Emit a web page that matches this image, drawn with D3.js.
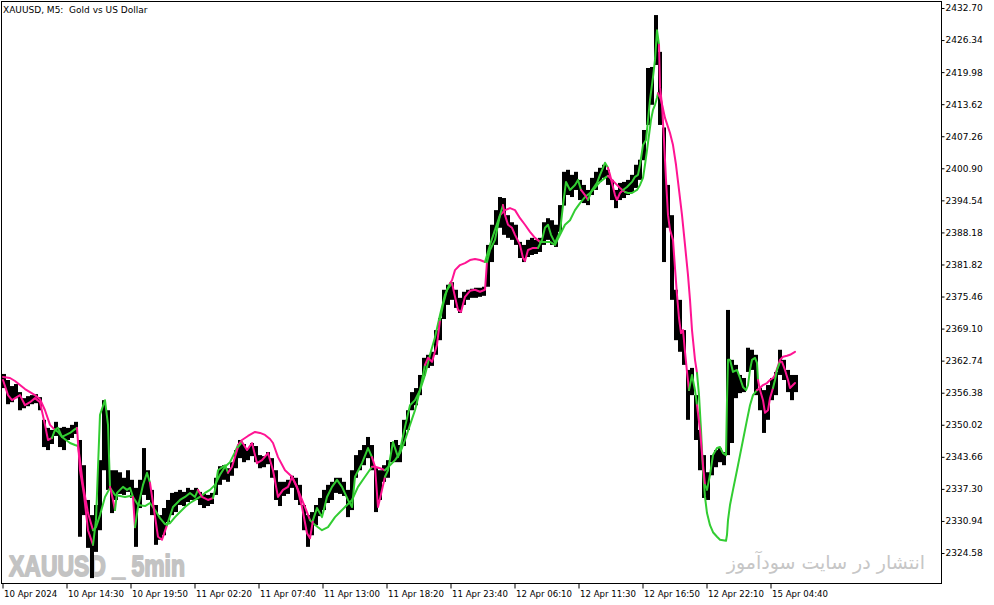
<!DOCTYPE html>
<html><head><meta charset="utf-8">
<script src="https://cdn.jsdelivr.net/npm/d3@7"></script>
<style>html,body{margin:0;padding:0;background:#fff;overflow:hidden}</style>
</head><body>
<svg id="c" width="994" height="605"></svg>
<script>
// ---------------- DATA ----------------
const chartTitle = "XAUUSD, M5:  Gold vs US Dollar";
const watermarkText = "XAUUSD _ 5min";
const promoText = "انتشار در سایت سودآموز";

// time axis labels (M5 bar index where each label sits)
const timeLabels = ["10 Apr 2024","10 Apr 14:30","10 Apr 19:50","11 Apr 02:20","11 Apr 07:40","11 Apr 13:00",
  "11 Apr 18:20","11 Apr 23:40","12 Apr 06:10","12 Apr 11:30","12 Apr 16:50","12 Apr 22:10","15 Apr 04:40"];
const timeTickBars = [0,64,128,192,256,320,384,448,512,576,640,704,768];

// price axis labels
const priceTicks = [2432.70,2426.34,2419.98,2413.62,2407.26,2400.90,2394.54,2388.18,2381.82,2375.46,
  2369.10,2362.74,2356.38,2350.02,2343.66,2337.30,2330.94,2324.58];

// price bars: each entry = high / low of 4 consecutive M5 bars
const barsPerEntry = 4;
const barHigh = [
 2360.1,2358.9,2357.7,2358.1,2356.5,2355.3,2355.7,2355.9,2356.1,2355.5,
 2351.0,2349.4,2349.0,2350.6,2349.4,2349.6,2349.4,2350.0,2350.6,2347.0,
 2342.0,2335.1,2332.1,2334.1,2343.0,2354.9,2352.9,2341.0,2341.0,2340.6,
 2339.5,2341.0,2339.1,2337.5,2339.1,2345.4,2341.0,2337.1,2334.1,2332.1,
 2333.5,2335.1,2336.5,2336.7,2337.1,2336.7,2337.5,2337.1,2337.5,2336.7,
 2336.3,2336.1,2336.5,2339.5,2341.8,2342.0,2341.4,2342.6,2345.0,2347.0,
 2346.2,2345.4,2346.4,2345.8,2344.0,2343.8,2344.6,2343.4,2341.0,2338.7,
 2338.7,2339.1,2339.9,2339.5,2338.1,2334.1,2332.1,2332.7,2334.1,2335.5,
 2337.1,2338.1,2338.7,2339.5,2339.5,2338.7,2337.1,2341.0,2344.0,2345.0,
 2346.0,2347.6,2346.0,2341.4,2341.0,2342.0,2343.0,2346.6,2347.0,2346.0,
 2351.0,2352.9,2356.5,2357.3,2359.9,2363.3,2363.9,2364.5,2368.8,2371.2,
 2376.8,2377.8,2378.3,2376.8,2375.2,2376.4,2376.8,2377.0,2377.2,2377.2,
 2377.4,2385.7,2389.7,2392.6,2395.2,2395.0,2391.6,2390.2,2389.7,2386.3,
 2385.7,2386.7,2387.1,2386.7,2387.1,2390.2,2391.0,2390.6,2389.7,2393.6,
 2400.2,2400.6,2399.6,2400.2,2398.6,2397.6,2396.6,2399.0,2400.2,2401.0,
 2401.6,2400.6,2398.6,2396.6,2398.0,2398.2,2398.6,2399.6,2401.6,2402.6,
 2408.5,2420.8,2421.0,2431.3,2424.0,2409.0,2397.6,2391.6,2376.8,2374.8,
 2368.8,2360.9,2361.3,2355.9,2349.0,2344.0,2340.6,2344.0,2345.0,2345.4,
 2344.6,2372.8,2362.9,2361.9,2359.9,2359.3,2365.3,2364.9,2363.9,2357.3,
 2356.9,2357.9,2359.3,2360.5,2364.9,2362.9,2360.9,2359.9,2359.9];
const barLow = [
 2357.3,2354.1,2354.5,2355.3,2352.9,2353.3,2353.7,2354.1,2354.3,2352.9,
 2345.6,2345.0,2346.2,2347.8,2345.6,2345.0,2347.0,2347.4,2348.2,2327.8,
 2332.1,2325.6,2319.6,2324.8,2329.1,2341.0,2337.1,2332.5,2335.1,2336.3,
 2336.1,2336.7,2335.5,2325.8,2333.5,2336.1,2335.1,2332.1,2326.2,2327.2,
 2328.1,2330.7,2332.1,2332.7,2334.1,2333.9,2334.7,2335.1,2335.1,2334.1,
 2333.5,2333.9,2334.3,2336.1,2338.1,2339.1,2338.7,2339.9,2341.4,2343.4,
 2342.6,2343.0,2343.8,2342.6,2341.4,2341.6,2342.2,2339.5,2335.1,2333.9,
 2335.9,2336.3,2337.5,2335.1,2334.1,2329.1,2325.8,2328.1,2330.1,2331.9,
 2333.1,2334.5,2335.1,2336.5,2336.3,2335.9,2331.7,2333.1,2339.5,2341.0,
 2342.0,2343.4,2341.0,2332.7,2335.1,2338.7,2339.5,2342.6,2342.6,2342.6,
 2345.8,2349.0,2352.9,2353.9,2355.9,2359.8,2361.3,2361.7,2363.9,2366.8,
 2371.0,2373.8,2374.8,2373.2,2372.2,2373.8,2374.8,2375.2,2375.2,2375.4,
 2375.6,2377.4,2382.3,2385.7,2389.1,2387.7,2387.1,2386.7,2385.7,2383.1,
 2382.3,2383.3,2383.7,2383.9,2384.3,2385.7,2386.7,2385.7,2385.3,2388.3,
 2393.5,2395.6,2395.2,2396.6,2394.6,2394.0,2393.6,2395.6,2396.6,2398.2,
 2399.0,2397.6,2394.6,2393.0,2394.6,2395.0,2395.6,2396.2,2397.0,2398.6,
 2402.5,2409.5,2413.5,2421.4,2409.5,2382.3,2389.1,2374.8,2366.8,2364.5,
 2361.9,2351.0,2355.9,2347.0,2341.0,2335.5,2335.1,2340.0,2341.6,2342.6,
 2342.0,2344.0,2346.4,2355.3,2356.3,2356.5,2360.5,2360.9,2355.9,2352.9,
 2348.4,2351.0,2354.9,2355.9,2359.9,2358.9,2356.5,2354.9,2356.5];

// fast indicator line: M5 bar index, value, trend (1 = up/green, 0 = down/pink)
const fastBar = [1,6,10,18,23,28,33,38,43,46, 50,53,56,60,64,68,72,75,78,82,
 86,91,94,98,103,106,108,111,113,115, 121,125,128,131,133,136,141,145,148,151,
 156,160,165,171,178,183,188,193,196,200, 206,211,213,216,223,226,230,236,240,245,
 250,255,260,266,271,276,281,286,290,295, 300,305,308,311,315,320,325,330,335,340,
 346,350,353,360,366,370,373,376,380,383, 386,391,396,398,403,408,413,418,423,426,
 430,435,438,441,445,450,453,456,459,463, 468,473,478,483,485,488,493,498,501,503,
 506,510,513,518,521,523,526,531,536,540, 543,546,549,553,558,561,564,568,573,576,
 579,583,586,590,595,598,601,603,606,608, 610,613,615,618,621,625,630,633,636,638,
 641,644,646,648,651,653,655,657,658,660, 662,664,666,668,671,673,675,677,679,681,
 683,685,687,690,693,695,698,701,703,705, 708,711,715,718,721,724,725,726,728,731,
 735,738,741,744,746,748,750,753,755,756, 758,761,763,766,768,771,773,775,778,780,
 783,786,788,791,793];
const fastVal = [2358.9,2355.9,2354.9,2355.9,2353.9,2354.5,2355.3,2354.5,2350.0,2347.0,
 2347.4,2349.0,2349.4,2347.6,2348.0,2348.4,2349.0,2349.4,2341.0,2336.1,
 2329.1,2326.2,2331.1,2352.0,2354.9,2350.0,2337.7,2335.1,2333.1,2336.5,
 2337.7,2337.1,2337.5,2335.7,2329.7,2333.7,2338.1,2340.5,2338.5,2334.5,
 2327.8,2327.2,2330.1,2333.7,2335.1,2335.7,2336.5,2335.7,2337.1,2335.7,
 2335.1,2335.5,2337.1,2341.0,2342.0,2340.5,2341.7,2345.6,2346.6,2345.0,
 2346.4,2342.4,2343.0,2344.4,2341.0,2335.7,2337.1,2337.7,2339.7,2337.7,
 2333.7,2328.5,2327.5,2331.1,2333.5,2331.7,2335.7,2337.7,2339.1,2337.7,
 2335.1,2333.7,2339.7,2342.4,2345.4,2343.6,2341.7,2333.7,2337.1,2339.7,
 2341.0,2346.6,2343.6,2345.0,2349.6,2353.9,2354.9,2356.9,2361.9,2363.3,
 2362.5,2365.9,2370.8,2373.8,2376.8,2378.1,2375.4,2372.8,2372.4,2375.4,
 2376.6,2376.8,2376.4,2376.8,2382.3,2384.7,2386.7,2391.6,2393.6,2391.6,
 2389.7,2389.1,2387.7,2385.7,2383.1,2382.5,2384.7,2385.1,2385.1,2386.7,
 2389.1,2389.7,2387.7,2386.1,2388.3,2393.6,2398.2,2396.6,2397.6,2398.6,
 2396.6,2395.6,2394.6,2396.6,2398.0,2399.6,2401.0,2402.0,2401.0,2399.6,
 2398.0,2395.6,2394.6,2396.0,2396.6,2397.2,2398.2,2399.2,2399.6,2401.6,
 2405.5,2406.5,2410.5,2414.5,2419.0,2422.4,2428.3,2425.4,2417.0,2413.5,
 2406.5,2398.6,2391.6,2388.7,2386.7,2381.1,2375.8,2371.2,2368.2,2368.8,
 2364.5,2360.5,2356.9,2359.9,2356.9,2353.9,2349.0,2342.0,2338.1,2337.1,
 2340.1,2344.0,2345.4,2345.6,2344.4,2344.0,2354.9,2362.9,2362.9,2360.5,
 2360.9,2359.3,2357.5,2356.9,2357.9,2360.9,2362.9,2363.3,2362.3,2358.9,
 2356.9,2354.9,2352.4,2352.9,2355.3,2357.3,2358.9,2360.9,2362.5,2362.5,
 2360.9,2358.9,2357.3,2357.9,2358.3];
const fastUp = [0,0,0,0,0,0,0,0,0,0, 0,1,1,1,1,1,1,1,0,0,
 0,0,1,1,1,1,1,0,0,1, 1,1,1,1,0,1,1,1,1,0,
 0,0,0,1,1,1,1,1,1,0, 0,0,1,1,1,1,0,0,1,0,
 0,0,0,0,0,0,0,0,0,0, 0,0,0,0,1,1,1,1,1,1,
 1,1,1,1,1,1,0,0,0,0, 1,1,1,1,1,1,1,1,1,0,
 0,0,0,1,1,1,0,0,0,0, 0,0,0,0,0,1,1,1,1,0,
 0,0,0,0,0,0,0,0,0,1, 1,1,1,1,1,1,1,1,1,1,
 1,0,0,1,1,1,1,1,1,0, 0,0,0,0,0,1,1,1,1,1,
 1,1,1,1,1,1,1,1,0,0, 0,0,0,0,0,0,0,0,0,0,
 0,0,0,1,1,1,0,0,0,1, 1,1,1,1,1,1,1,1,1,1,
 1,1,1,1,1,1,1,1,1,1, 0,0,0,0,0,0,1,1,1,0,
 0,0,0,0,0];

// slow indicator line: M5 bar index, value, trend (1 = up/green, 0 = down/pink)
const slowBar = [1,8,13,18,23,28,33,38,43,48, 53,56,60,64,68,73,76,78,81,86,
 91,94,98,103,108,113,118,123,128,131, 136,143,148,153,158,163,168,173,178,183,
 188,193,198,203,208,213,218,223,228,233, 236,240,246,253,258,263,268,271,276,283,
 290,296,303,308,311,316,320,326,333,338, 343,350,356,363,370,373,378,383,388,393,
 398,403,408,413,418,423,428,433,438,443, 448,450,453,458,463,468,473,478,483,488,
 493,498,503,508,513,518,523,528,533,538, 543,548,553,558,563,568,573,578,583,588,
 593,598,603,606,610,613,618,623,626,630, 635,638,641,643,645,647,649,651,653,655,
 656,659,663,668,671,674,677,680,683,686, 688,690,693,695,697,699,701,703,705,708,
 711,715,718,724,725,726,728,731,735,738, 741,745,748,751,755,758,761,765,768,771,
 773,778,781,785,788,793];
const slowVal = [2359.5,2359.3,2358.7,2357.9,2357.1,2356.5,2355.9,2355.1,2352.9,2350.0,
 2349.0,2348.6,2347.6,2347.0,2346.4,2346.0,2345.8,2343.0,2338.1,2332.5,
 2329.1,2329.7,2332.1,2335.7,2337.5,2336.1,2335.9,2335.7,2335.9,2335.7,
 2334.1,2333.9,2334.5,2333.1,2331.5,2330.3,2330.5,2331.7,2332.7,2333.7,
 2334.5,2335.1,2335.7,2336.5,2337.1,2338.1,2340.1,2341.7,2342.6,2344.6,
 2346.0,2347.0,2347.8,2348.6,2348.4,2348.0,2347.2,2346.4,2343.6,2341.0,
 2339.7,2337.1,2333.7,2331.1,2330.5,2329.7,2329.1,2329.7,2331.7,2332.7,
 2333.7,2335.1,2337.7,2339.7,2341.7,2341.7,2341.4,2341.0,2342.0,2343.0,
 2344.4,2347.0,2350.0,2352.9,2356.9,2359.9,2363.9,2367.4,2371.8,2375.8,
 2378.1,2378.7,2380.7,2381.7,2382.1,2382.7,2382.9,2382.7,2382.3,2385.7,
 2388.7,2391.6,2392.6,2393.0,2392.6,2391.0,2389.7,2388.3,2387.1,2386.3,
 2386.3,2386.3,2385.7,2387.7,2389.7,2390.6,2392.6,2394.0,2395.2,2396.0,
 2397.0,2398.2,2399.0,2399.4,2398.6,2398.0,2397.0,2396.2,2396.0,2396.0,
 2396.6,2397.6,2399.0,2401.6,2404.5,2407.5,2410.5,2412.5,2413.5,2414.9,
 2415.8,2414.5,2410.9,2407.9,2405.5,2401.6,2396.6,2391.6,2385.7,2379.7,
 2374.8,2368.8,2362.9,2360.3,2355.9,2349.0,2341.0,2335.7,2332.5,2330.1,
 2328.7,2327.8,2327.2,2327.0,2328.2,2331.1,2334.1,2337.1,2341.0,2344.0,
 2347.0,2351.0,2353.9,2355.9,2356.9,2357.3,2357.9,2358.3,2358.9,2359.3,
 2359.9,2362.9,2363.5,2363.7,2363.9,2364.5];
const slowUp = [0,0,0,0,0,0,0,0,0,0, 0,1,1,1,1,1,1,0,0,0,
 0,1,1,1,1,1,1,1,1,1, 1,1,1,1,1,1,1,1,1,1,
 1,1,1,1,1,1,1,1,1,1, 1,0,0,0,0,0,0,0,0,0,
 0,0,0,0,1,1,1,1,1,1, 1,1,1,1,1,0,0,0,1,1,
 1,1,1,1,1,1,1,1,1,1, 1,0,0,0,0,0,0,0,0,1,
 1,1,0,0,0,0,0,0,0,0, 1,1,1,1,1,1,1,1,1,1,
 1,1,1,1,0,0,0,0,1,1, 1,1,1,1,1,1,1,1,1,1,
 1,0,0,0,0,0,0,0,0,0, 0,0,0,0,1,1,1,1,1,1,
 1,1,1,1,1,1,1,1,1,1, 1,1,1,1,1,0,0,0,0,0,
 0,0,0,0,0,0];

// ---------------- CHART ----------------
const PINK = "#ff1493", GREEN = "#32cd32";
const L = 2, R = 941, T = 2, B = 584;
const svg = d3.select("#c");
const x = d3.scaleLinear().domain([0, R - L]).range([L, R]);          // one M5 bar per pixel
const y = d3.scaleLinear().domain([2324.58, 2432.70]).range([553, 8]);

// watermarks (behind data)
svg.append("text").attr("x", 9).attr("y", 575.5)
  .attr("font-family", "'Liberation Sans',Arial,sans-serif")
  .attr("font-weight", "bold").attr("font-size", 30).attr("fill", "#c3c3c3")
  .attr("stroke", "#c3c3c3").attr("stroke-width", 1.8).attr("stroke-linejoin", "round")
  .attr("textLength", 176).attr("lengthAdjust", "spacingAndGlyphs").text(watermarkText);
svg.append("text").attr("x", 925).attr("y", 569).attr("text-anchor", "end")
  .attr("font-family", "'DejaVu Sans',sans-serif").attr("font-size", 19).attr("fill", "#c6c6c6")
  .text(promoText);

// price bars
const bw = x(barsPerEntry) - x(0);
svg.append("g").selectAll("rect").data(barHigh).join("rect")
  .attr("x", (d, i) => x(i * barsPerEntry))
  .attr("width", bw)
  .attr("y", d => y(d))
  .attr("height", (d, i) => Math.max(1, y(barLow[i]) - y(d)))
  .attr("fill", "#000");

// indicator lines, split into runs by trend colour
function drawTrendLine(bars, vals, ups) {
  const pts = bars.map((b, i) => ({ b, v: vals[i], up: ups[i] }));
  const runs = [];
  let cur = null;
  for (let k = 1; k < pts.length; k++) {
    const c = pts[k].up;
    if (!cur || cur.c !== c) { cur = { c, pts: [pts[k - 1]] }; runs.push(cur); }
    cur.pts.push(pts[k]);
  }
  const line = d3.line().x(p => x(p.b)).y(p => y(p.v));
  const g = svg.append("g");
  runs.forEach(r => g.append("path").attr("d", line(r.pts)).attr("fill", "none")
    .attr("stroke", r.c ? GREEN : PINK).attr("stroke-width", 2)
    .attr("stroke-linejoin", "round").attr("stroke-linecap", "round"));
}
drawTrendLine(slowBar, slowVal, slowUp);
drawTrendLine(fastBar, fastVal, fastUp);

// frame
svg.append("rect").attr("x", L - 0.5).attr("y", T - 0.5).attr("width", R - L + 1).attr("height", B - T)
  .attr("fill", "none").attr("stroke", "#000").attr("stroke-width", 1);

// right price axis
const yAxis = d3.axisRight(y).tickValues(priceTicks).tickFormat(d3.format(".2f")).tickSize(3).tickPadding(1);
const ga = svg.append("g").attr("transform", `translate(${R + 0.5},0)`).call(yAxis);
ga.select(".domain").remove();
ga.selectAll("text").attr("font-family", "'DejaVu Sans',sans-serif").attr("font-size", 9).attr("fill", "#000");
ga.selectAll("line").attr("stroke", "#000");

// bottom time axis
const xAxis = d3.axisBottom(x).tickValues(timeTickBars).tickFormat((d, i) => timeLabels[i]).tickSize(5);
const gb = svg.append("g").attr("transform", `translate(0.5,${B - 0.5})`).call(xAxis);
gb.select(".domain").remove();
gb.selectAll("line").attr("stroke", "#000");
gb.selectAll("text").attr("text-anchor", "start").attr("dx", 1).attr("y", 7)
  .attr("font-family", "'DejaVu Sans',sans-serif").attr("font-size", 8.6).attr("fill", "#000");

// title
svg.append("text").attr("x", 3).attr("y", 13).attr("font-family", "'DejaVu Sans',sans-serif")
  .attr("font-size", 9).attr("fill", "#000").attr("xml:space", "preserve").style("white-space", "pre").text(chartTitle);
</script>
</body></html>
